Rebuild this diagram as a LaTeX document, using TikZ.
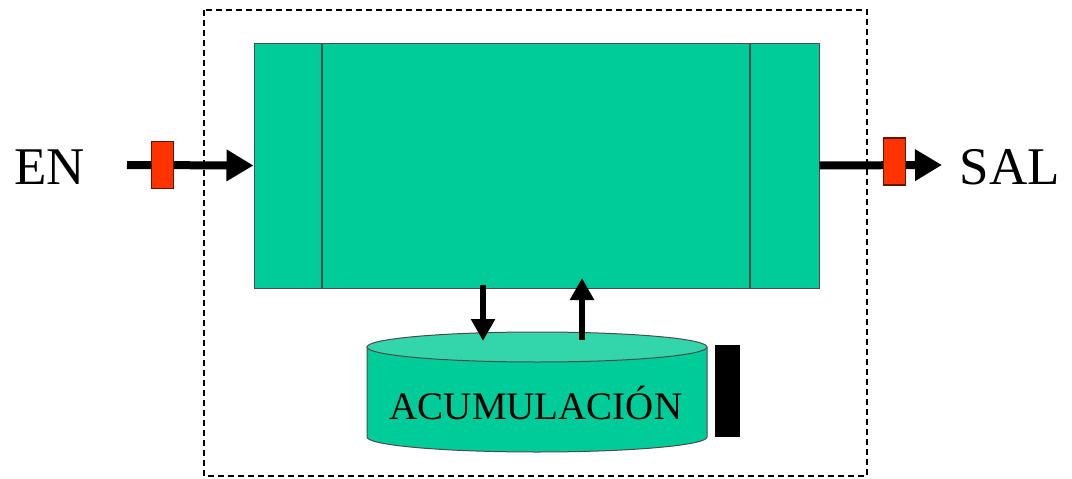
\documentclass[tikz,border=0pt]{standalone}
\usepackage{fontspec}
\setmainfont{Liberation Serif}
\usetikzlibrary{arrows.meta}
\definecolor{grn}{HTML}{00CC99}
\definecolor{grnlt}{HTML}{33D6AA}
\definecolor{rd}{HTML}{FF3300}
\begin{document}
\begin{tikzpicture}[x=1pt,y=-1pt,
  flow/.style={line width=8pt,-{Triangle[length=27pt,width=30pt]}},
  small/.style={line width=6pt,-{Triangle[length=22pt,width=23pt]}},
  valve/.style={draw=black!60!rd,line width=1.5pt,fill=rd,minimum width=22pt,minimum height=47pt,inner sep=0pt},
  lbl/.style={font=\fontsize{53}{60}\selectfont,inner sep=0pt}]
\useasboundingbox (0,0) rectangle (1072,479);
\draw[line width=1.3pt,dash pattern=on 6pt off 4pt] (204,10) rectangle (867,476);
\node[draw=black!70,fill=grn,line width=1pt,minimum width=565pt,minimum height=245pt,inner sep=0pt] (box) at (536.5,165.5) {};
\draw[black!70,line width=1.8pt] (322,43) -- (322,288);
\draw[black!70,line width=1.8pt] (750,43) -- (750,288);
% cylinder
\fill[grn,draw=black!70,line width=1pt] (367,347) -- (367,437) arc[start angle=180,end angle=0,x radius=170,y radius=15] -- (707,347);
\draw[fill=grnlt,draw=black!70,line width=1pt] (537,347) ellipse[x radius=170,y radius=15];
\node[font=\fontsize{39}{44}\selectfont,inner sep=0pt] (acu) at (536,403) {ACUMULACIÓN};
\node[fill=black,minimum width=25pt,minimum height=92pt,inner sep=0pt] (bar) at (727.5,391) {};
\coordinate (dtop) at (483,285);
\coordinate (dbot) at (483,341);
\coordinate (utop) at (582,278);
\coordinate (ubot) at (582,340);
\draw[small] (dtop) -- (dbot);
\draw[small] (ubot) -- (utop);
% inputs/outputs
\node[lbl,anchor=west] (en) at (14,167) {EN};
\node[lbl,anchor=east] (sal) at (1060,167) {SAL};
\coordinate (inS) at (127,165);
\coordinate (outE) at (942,165);
\draw[flow] (inS) -- (box.west);
\draw[flow] (box.east) -- (outE);
\node[valve] (v1) at (162.5,165) {};
\node[valve] (v2) at (894.5,161.5) {};
\end{tikzpicture}
\end{document}
